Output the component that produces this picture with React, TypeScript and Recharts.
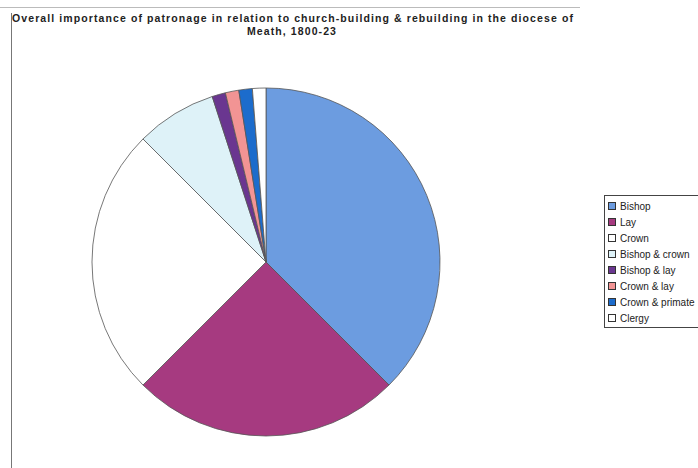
import React from 'react';
import { PieChart, Pie, Cell, Legend } from 'recharts';

const categories = [
  'Bishop',
  'Lay',
  'Crown',
  'Bishop & crown',
  'Bishop & lay',
  'Crown & lay',
  'Crown & primate',
  'Clergy',
];
// number of churches built / rebuilt under each kind of patronage
const churches = [30, 20, 20, 6, 1, 1, 1, 1];
const colors = ['#6c9ce0', '#a63a80', '#ffffff', '#def2f8', '#6a3690', '#f29494', '#1c6ccc', '#ffffff'];

const titleLine1 = 'Overall importance of  patronage in relation to church-building & rebuilding in the diocese of';
const titleLine2 = 'Meath, 1800-23';

const data = categories.map((name, i) => ({ name, value: churches[i] }));

function LegendBox() {
  return (
    <div
      style={{
        border: '1px solid #444',
        borderRight: 'none',
        background: '#fff',
        padding: '2px 0 1px 3px',
        width: 94,
        fontFamily: 'Liberation Sans, Arial, sans-serif',
        fontSize: 10,
        color: '#222',
      }}
    >
      {categories.map((name, i) => (
        <div key={name} style={{ display: 'flex', alignItems: 'center', height: 16 }}>
          <span
            style={{
              display: 'inline-block',
              width: 6,
              height: 6,
              marginRight: 4,
              background: colors[i],
              border: '1px solid #333',
            }}
          />
          <span style={{ whiteSpace: 'nowrap' }}>{name}</span>
        </div>
      ))}
    </div>
  );
}

export default function App() {
  return (
    <div style={{ position: 'absolute', left: 0, top: 0, width: 698, height: 468, background: '#fff', overflow: 'hidden' }}>
      <div style={{ position: 'absolute', left: 0, top: 7, width: 580, borderTop: '1px solid #bbb' }} />
      <div style={{ position: 'absolute', left: 11, top: 13, bottom: 0, borderLeft: '1px solid #777' }} />
      <div
        style={{
          position: 'absolute',
          left: 12,
          top: 12,
          width: 560,
          textAlign: 'center',
          fontFamily: 'Liberation Sans, Arial, sans-serif',
          fontWeight: 700,
          fontSize: 10.5,
          letterSpacing: 1.1,
          lineHeight: '13px',
          color: '#222',
        }}
      >
        <div style={{ whiteSpace: 'nowrap' }}>{titleLine1}</div>
        <div>{titleLine2}</div>
      </div>
      <PieChart width={698} height={468} style={{ position: 'absolute', left: 0, top: 0 }}>
        <Pie
          data={data}
          dataKey="value"
          nameKey="name"
          cx={261}
          cy={257}
          outerRadius={174}
          startAngle={90}
          endAngle={-270}
          stroke="#555"
          strokeWidth={0.8}
          isAnimationActive={false}
        >
          {data.map((d, i) => (
            <Cell key={d.name} fill={colors[i]} />
          ))}
        </Pie>
        <Legend
          layout="vertical"
          align="right"
          verticalAlign="top"
          wrapperStyle={{ top: 195, left: 604, width: 98 }}
          content={() => <LegendBox />}
        />
      </PieChart>
    </div>
  );
}
